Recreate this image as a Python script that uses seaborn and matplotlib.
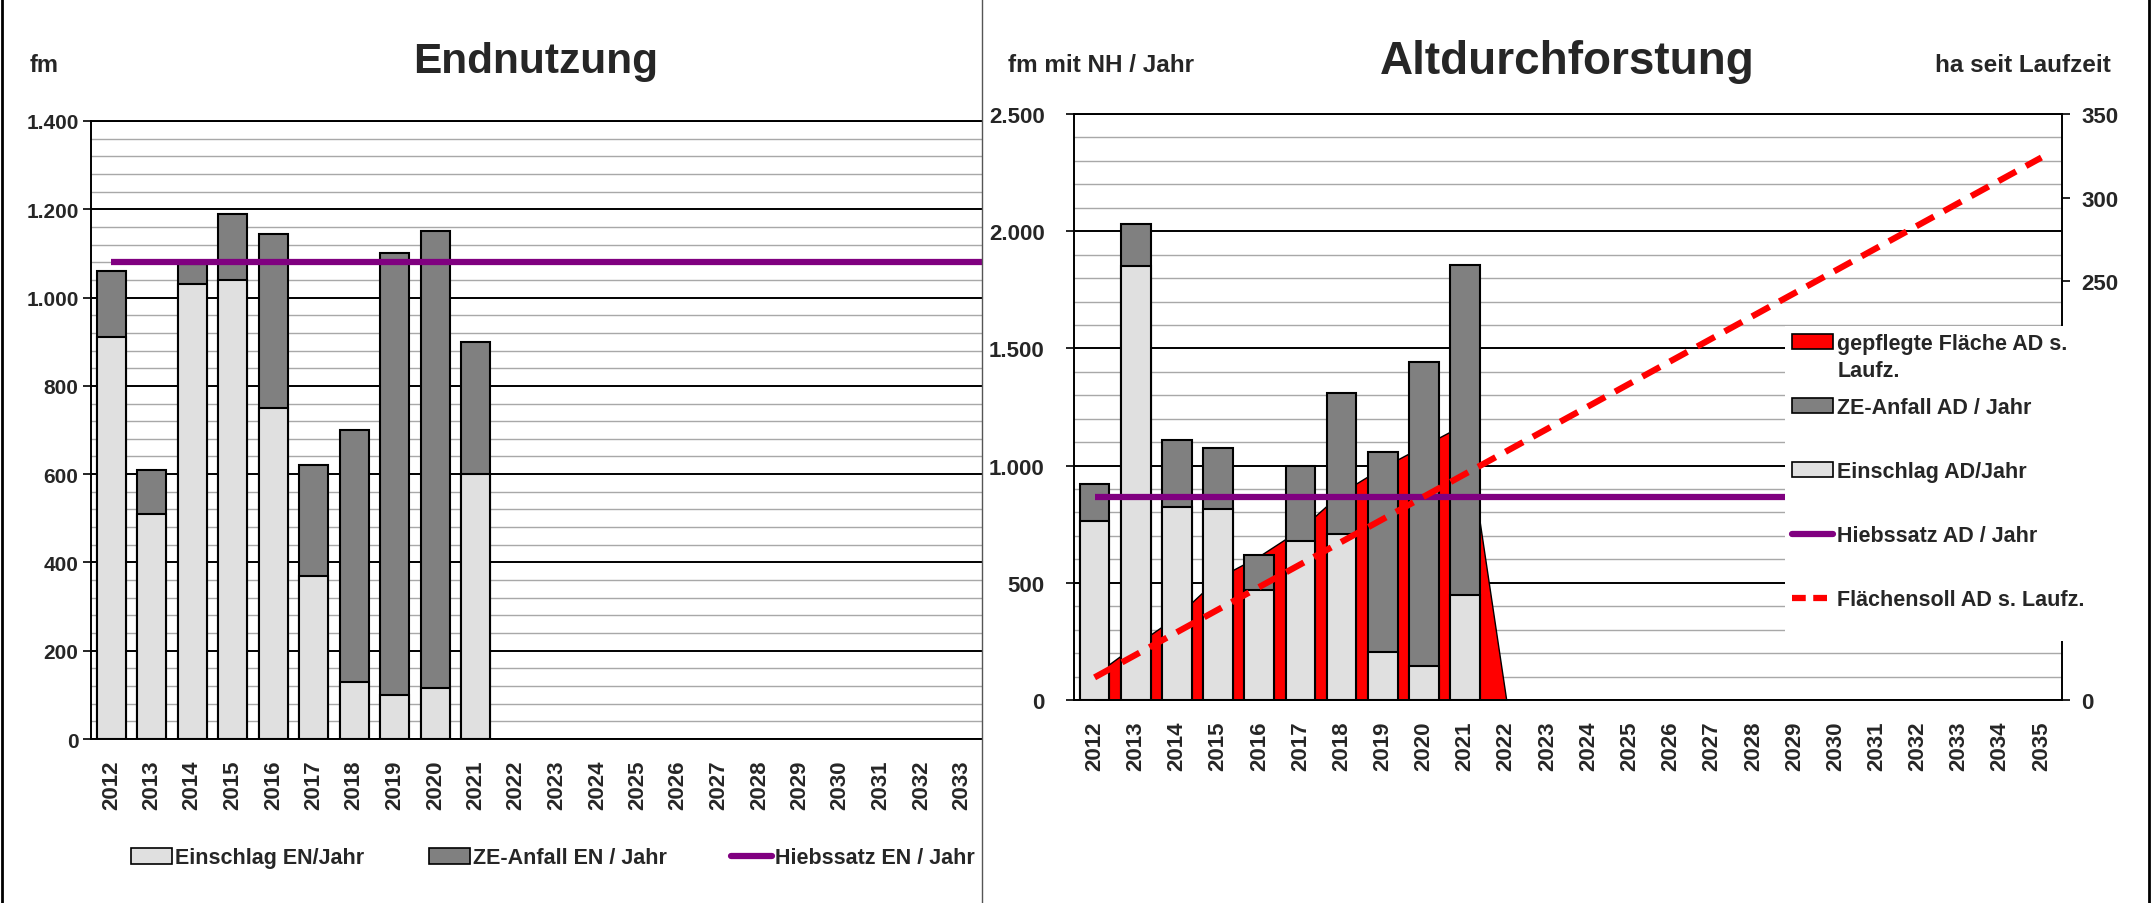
import numpy as np
import pandas as pd
import seaborn as sns
import matplotlib.pyplot as plt
from matplotlib.ticker import MultipleLocator, FuncFormatter
from matplotlib.patches import Patch, Rectangle
from matplotlib.lines import Line2D

# ---- data -------------------------------------------------------------
years_en = ["2012", "2013", "2014", "2015", "2016", "2017", "2018", "2019", "2020", "2021",
            "2022", "2023", "2024", "2025", "2026", "2027", "2028", "2029", "2030", "2031",
            "2032", "2033"]
years_ad = years_en + ["2034", "2035"]
years_ist = ["2012", "2013", "2014", "2015", "2016", "2017", "2018", "2019", "2020", "2021"]

# Endnutzung (fm)
einschlag_en = [910, 510, 1030, 1040, 750, 370, 130, 100, 115, 600]
ze_en = [150, 100, 45, 150, 395, 250, 570, 1000, 1035, 300]
hiebssatz_en = 1080

# Altdurchforstung (fm)
einschlag_ad = [765, 1850, 825, 815, 470, 680, 710, 205, 145, 450]
ze_ad = [155, 180, 285, 260, 150, 320, 600, 855, 1295, 1405]
hiebssatz_ad = 865

# Altdurchforstung (ha seit Laufzeit)
years_flaeche = years_ist + ["2022"]
gepflegt_ha = [15, 33, 50, 73, 86, 102, 124, 139, 152, 165, 0]
soll_ha = [13.5, 27.0, 40.5, 54.0, 67.5, 81.0, 94.5, 108.0, 121.5, 135.0, 148.5, 162.0,
           175.5, 189.0, 202.5, 216.0, 229.5, 243.0, 256.5, 270.0, 283.5, 297.0, 310.5, 324.0]

LIGHT = "#e0e0e0"
DARK = "#808080"
PURPLE = "#800080"
RED = "#ff0000"

sns.set_style("white")
plt.rcParams["font.family"] = ["Liberation Sans", "DejaVu Sans"]
plt.rcParams["font.weight"] = "bold"

W, H = 2152, 904
fig = plt.figure(figsize=(W / 100, H / 100), dpi=100)


def box(x0, y0, x1, y1):
    # pixel box (top-left origin) -> figure fraction rect
    return [x0 / W, 1 - y1 / H, (x1 - x0) / W, (y1 - y0) / H]


dot_fmt = FuncFormatter(lambda v, p: f"{v:,.0f}".replace(",", "."))


def style_axis(ax, major, minor, pad_y, pad_x, ysize):
    ax.set_axisbelow(True)
    ax.yaxis.set_major_locator(MultipleLocator(major))
    ax.yaxis.set_minor_locator(MultipleLocator(minor))
    ax.yaxis.set_major_formatter(dot_fmt)
    ax.grid(which="major", axis="y", color="black", lw=1.4)
    ax.grid(which="minor", axis="y", color="#a8a8a8", lw=1.0)
    ax.grid(which="both", axis="x", visible=False)
    ax.tick_params(axis="y", which="major", direction="out", length=6, width=1.2,
                   color="black", labelsize=ysize, pad=pad_y, left=True)
    ax.tick_params(axis="y", which="minor", length=0)
    ax.tick_params(axis="x", length=0, labelsize=16, labelrotation=90, pad=pad_x)
    for s in ["left", "top", "bottom"]:
        ax.spines[s].set_visible(True)
        ax.spines[s].set_color("black")
        ax.spines[s].set_linewidth(1.4)
    ax.spines["right"].set_visible(False)
    ax.set_xlabel("")
    ax.set_ylabel("")


# ---- Endnutzung ---------------------------------------------------------
ax_l = fig.add_axes(box(91, 122, 982, 740))
df_en = pd.DataFrame({"Jahr": years_ist, "Einschlag": einschlag_en, "ZE": ze_en})
df_en["Gesamt"] = df_en["Einschlag"] + df_en["ZE"]
sns.barplot(data=df_en, x="Jahr", y="Gesamt", order=years_en, color=DARK, saturation=1,
            edgecolor="black", linewidth=1.5, width=0.72, errorbar=None, ax=ax_l)
sns.barplot(data=df_en, x="Jahr", y="Einschlag", order=years_en, color=LIGHT, saturation=1,
            edgecolor="black", linewidth=1.5, width=0.72, errorbar=None, ax=ax_l)
ax_l.set_ylim(0, 1400)
xl = ax_l.get_xlim()
ax_l.hlines(hiebssatz_en, 0, xl[1], color=PURPLE, lw=4.5, zorder=4)
ax_l.set_xlim(xl)
style_axis(ax_l, 200, 40, 3, 15, 15)

# ---- Altdurchforstung ---------------------------------------------------
ax_r = fig.add_axes(box(1074, 115, 2062, 701))
df_ad = pd.DataFrame({"Jahr": years_ist, "Einschlag": einschlag_ad, "ZE": ze_ad})
df_ad["Gesamt"] = df_ad["Einschlag"] + df_ad["ZE"]
sns.barplot(data=df_ad, x="Jahr", y="Gesamt", order=years_ad, color=DARK, saturation=1,
            edgecolor="black", linewidth=1.5, width=0.72, errorbar=None, ax=ax_r)
sns.barplot(data=df_ad, x="Jahr", y="Einschlag", order=years_ad, color=LIGHT, saturation=1,
            edgecolor="black", linewidth=1.5, width=0.72, errorbar=None, ax=ax_r)
xr = ax_r.get_xlim()

ax_r2 = ax_r.twinx()
ax_r2.set_ylim(0, 350)
ax_r2.yaxis.set_major_locator(MultipleLocator(50))
ax_r2.grid(False)
for s in ["left", "top", "bottom"]:
    ax_r2.spines[s].set_visible(False)
ax_r2.spines["right"].set_visible(True)
ax_r2.spines["right"].set_color("black")
ax_r2.spines["right"].set_linewidth(1.4)
ax_r2.tick_params(axis="y", direction="out", length=6, width=1.2, color="black",
                  labelsize=16, pad=8, right=True)

# area (ha) drawn in the fm axes layer so it sits between grid and bars
pos_fl = [years_ad.index(y) for y in years_flaeche]
ax_r.fill_between(pos_fl, gepflegt_ha, color=RED, edgecolor="black", lw=1.0,
                  transform=ax_r2.transData, zorder=0.9)
pos_all = [years_ad.index(y) for y in years_ad]
ax_r.plot(pos_all, soll_ha, color=RED, lw=4.5, dashes=(3.2, 1.8),
          transform=ax_r2.transData, zorder=5)
ax_r.hlines(hiebssatz_ad, 0, pos_all[-1], color=PURPLE, lw=4.5, zorder=4)
ax_r.set_ylim(0, 2500)
ax_r.set_xlim(xr)
style_axis(ax_r, 500, 100, 15, 15, 16)

# ---- texts ----------------------------------------------------------------
fig.text(30 / W, 1 - 66 / H, "fm", fontsize=17, va="center", ha="left")
fig.text(536 / W, 1 - 62 / H, "Endnutzung", fontsize=30.5, va="center", ha="center")
fig.text(1008 / W, 1 - 66 / H, "fm mit NH / Jahr", fontsize=17.5, va="center", ha="left")
fig.text(1567 / W, 1 - 62 / H, "Altdurchforstung", fontsize=33, va="center", ha="center")
fig.text(2111 / W, 1 - 66 / H, "ha seit Laufzeit", fontsize=17.5, va="center", ha="right")

# ---- legends --------------------------------------------------------------
h_l = [Patch(facecolor=LIGHT, edgecolor="black", lw=1.2),
       Patch(facecolor=DARK, edgecolor="black", lw=1.2),
       Line2D([], [], color=PURPLE, lw=4.5)]
fig.legend(h_l, ["Einschlag EN/Jahr", "ZE-Anfall EN / Jahr", "Hiebssatz EN / Jahr"],
           loc="center", bbox_to_anchor=(553 / W, 1 - 859 / H), ncol=3, frameon=False,
           fontsize=15.5, handlelength=1.9, handletextpad=0.15, columnspacing=3.0)

cover = Rectangle((1785 / W, 1 - 642 / H), (2130 - 1785) / W, (642 - 327) / H,
                  transform=fig.transFigure, facecolor="white", edgecolor="none", zorder=4)
fig.patches.append(cover)
h_r = [Patch(facecolor=RED, edgecolor="black", lw=1.2),
       Patch(facecolor=DARK, edgecolor="black", lw=1.2),
       Patch(facecolor=LIGHT, edgecolor="black", lw=1.2),
       Line2D([], [], color=PURPLE, lw=4.5),
       Line2D([], [], color=RED, lw=4.5, dashes=(2.2, 1.2))]
leg_r = fig.legend(h_r, ["gepflegte Fläche AD s.", "ZE-Anfall AD / Jahr", "Einschlag AD/Jahr",
                         "Hiebssatz AD / Jahr", "Flächensoll AD s. Laufz."],
                   loc="upper left", bbox_to_anchor=(1792 / W, 1 - 334 / H), frameon=False,
                   fontsize=15.5, handlelength=1.9, handletextpad=0.2, labelspacing=2.0,
                   borderpad=0, borderaxespad=0)
# second line of the first legend label, placed under the first line
fig.canvas.draw()
bb = leg_r.get_texts()[0].get_window_extent()
fig.text(bb.x0 / W, ((bb.y0 + bb.y1) / 2 - 27) / H, "Laufz.", fontsize=15.5,
         va="center", ha="left", zorder=6)

# ---- panel frames -----------------------------------------------------------
for xpix, lw, col in [(2, 2.0, "black"), (982, 1.0, "#555555"), (2149, 2.0, "black")]:
    fig.add_artist(Line2D([xpix / W, xpix / W], [0, 1], transform=fig.transFigure,
                          color=col, lw=lw))

fig.savefig("out.png", dpi=100)
